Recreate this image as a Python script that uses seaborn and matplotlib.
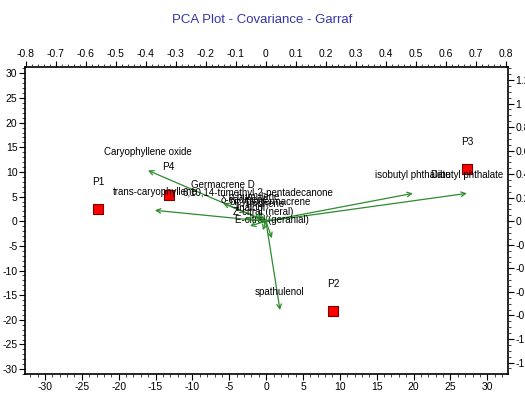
import matplotlib
matplotlib.use("Agg")
import matplotlib.pyplot as plt
from matplotlib.ticker import MultipleLocator
import seaborn as sns
import pandas as pd

sns.set_style("ticks")
plt.rcParams['font.family'] = ['Liberation Sans Narrow', 'Liberation Sans', 'DejaVu Sans']
plt.rcParams['axes.unicode_minus'] = False

# --- data ---
sample_names = ["P1", "P4", "P3", "P2"]
score_x = [-22.8, -13.2, 27.3, 9.1]
score_y = [2.4, 5.3, 10.5, -18.3]

variable_names = [
    "Caryophyllene oxide", "trans-caryophyllene", "isobutyl phthalate",
    "Dibutyl phthalate", "spathulenol", "Germacrene D",
    "6,10,14-trimethyl-2-pentadecanone", "bicyclogermacrene",
    "Z-citral (neral)", "E-citral (geranial)", "α-humulene",
    "linalool", "δ-cadinene", "limonene",
]
loading_x = [-0.393, -0.370, 0.490, 0.670, 0.047, -0.143,
             -0.027, 0.013, -0.010, 0.020, -0.037, -0.053, -0.070, -0.003]
loading_y = [0.432, 0.093, 0.237, 0.237, -0.754, 0.153,
             0.085, 0.008, -0.076, -0.144, 0.050, -0.040, 0.025, -0.010]

scores = pd.DataFrame({"PC1": score_x, "PC2": score_y, "sample": sample_names})

W, H = 525, 396
fig = plt.figure(figsize=(W / 100, H / 100), dpi=100)
rect = [25 / W, 1 - 374 / H, (508 - 25) / W, (374 - 67) / H]
ax = fig.add_axes(rect)

sns.scatterplot(data=scores, x="PC1", y="PC2", marker="s", color="#ff0000",
                edgecolor="#7a0000", linewidth=0.8, s=45, ax=ax, zorder=5)
for nm, x, y in zip(sample_names, score_x, score_y):
    ax.annotate(nm, xy=(x, y), xytext=(0, 20), textcoords="offset points",
                ha="center", va="center", fontsize=7.2, color="black")

ax.set_xlim(-32.7, 32.8)
ax.set_ylim(-31.0, 31.3)
ax.set_xlabel("")
ax.set_ylabel("")
ax.xaxis.set_major_locator(MultipleLocator(5))
ax.xaxis.set_minor_locator(MultipleLocator(1))
ax.yaxis.set_major_locator(MultipleLocator(5))
ax.yaxis.set_minor_locator(MultipleLocator(1))

# loadings axes (top / right)
ax2 = fig.add_axes(rect, frameon=False)
ax2.patch.set_visible(False)
ax2.set_xlim(-0.803, 0.807)
ax2.set_ylim(-1.297, 1.31)
ax2.xaxis.tick_top()
ax2.yaxis.tick_right()
ax2.xaxis.set_label_position("top")
ax2.yaxis.set_label_position("right")
ax2.xaxis.set_minor_locator(MultipleLocator(0.02))
ax2.yaxis.set_minor_locator(MultipleLocator(0.05))

green = "#2e8b2e"
for nm, lx, ly in zip(variable_names, loading_x, loading_y):
    ax2.annotate("", xy=(lx, ly), xytext=(0, 0),
                 arrowprops=dict(arrowstyle="->", color=green, lw=0.9,
                                 shrinkA=0, shrinkB=0, mutation_scale=8))
    ax2.annotate(nm, xy=(lx, ly), xytext=(0, 13), textcoords="offset points",
                 ha="center", va="center", fontsize=7.0, color="black")

def fmt(v):
    s = f"{v:.1f}".rstrip("0").rstrip(".")
    return "0" if s in ("-0", "0") else s

top_ticks = [round(-0.8 + 0.1 * i, 1) for i in range(17)]
right_ticks = [round(-1.2 + 0.2 * i, 1) for i in range(13)]
ax2.set_xticks(top_ticks)
ax2.set_xticklabels([fmt(v) for v in top_ticks])
ax2.set_yticks(right_ticks)
ax2.set_yticklabels([fmt(v) for v in right_ticks])

for a in (ax, ax2):
    a.tick_params(which="major", direction="out", length=4, width=0.8,
                  labelsize=7.5, pad=1.5, colors="black")
    a.tick_params(which="minor", direction="out", length=2, width=0.6)
for sp in ax.spines.values():
    sp.set_visible(True)
    sp.set_linewidth(1.2)
    sp.set_color("black")

fig.text(262 / W, 1 - 20 / H, "PCA Plot - Covariance - Garraf",
         ha="center", va="center", fontsize=9.5, color="#3535a8",
         family=["Liberation Sans", "DejaVu Sans"])

fig.savefig("out.png", dpi=100)
